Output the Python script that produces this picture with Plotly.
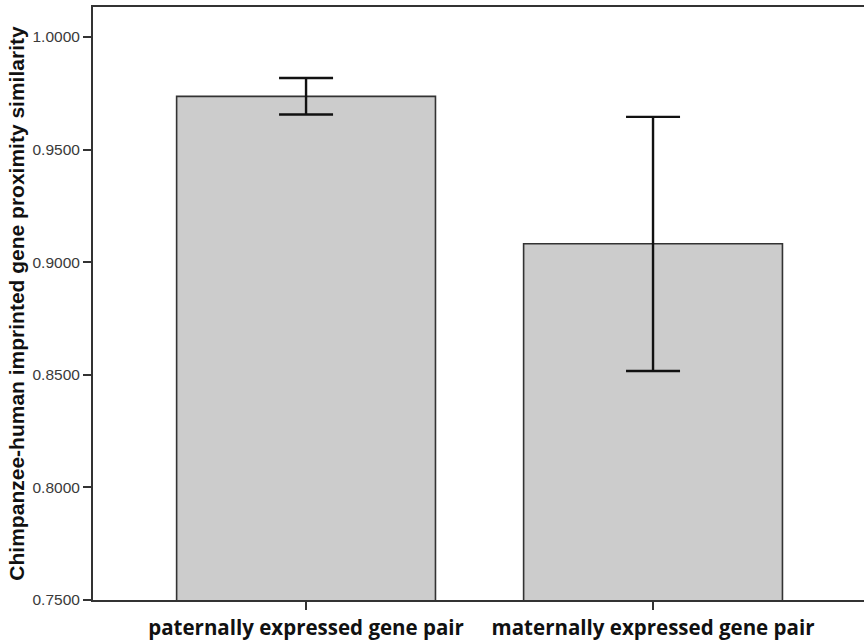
import plotly.graph_objects as go

categories = ["paternally expressed gene pair", "maternally expressed gene pair"]
means = [0.9736, 0.9082]
err_plus = [0.0082, 0.0563]
err_minus = [0.0080, 0.0565]
y_ticks = [0.75, 0.80, 0.85, 0.90, 0.95, 1.00]
y_tick_labels = ["0.7500", "0.8000", "0.8500", "0.9000", "0.9500", "1.0000"]

fig = go.Figure()
fig.add_trace(go.Bar(
    x=[0, 1], y=means, width=0.746,
    marker=dict(color="#cccccc", line=dict(color="#333333", width=1.6)),
    error_y=dict(type="data", symmetric=False, array=err_plus, arrayminus=err_minus,
                 color="#111111", thickness=2.4, width=27),
))

fig.update_layout(
    width=864, height=644,
    margin=dict(l=93, r=0, t=7, b=44),
    plot_bgcolor="white", paper_bgcolor="white",
    showlegend=False,
    xaxis=dict(
        range=[-0.614, 1.608], tickmode="array", tickvals=[0, 1], ticktext=categories,
        ticks="outside", ticklen=8, tickwidth=2, tickcolor="#333333",
        showline=True, linecolor="#333333", linewidth=2, mirror=True,
        showgrid=False, zeroline=False,
        tickfont=dict(family="Open Sans", size=20.5, color="#111111", weight="bold"),
    ),
    yaxis=dict(
        range=[0.75, 1.0133], tickmode="array", tickvals=y_ticks, ticktext=y_tick_labels,
        ticks="outside", ticklen=8, tickwidth=2, tickcolor="#333333",
        showline=True, linecolor="#333333", linewidth=2,
        showgrid=False, zeroline=False,
        tickfont=dict(family="Liberation Sans", size=15.5, color="#3a3a3a"),
        title=dict(text="Chimpanzee-human imprinted gene proximity similarity",
                   font=dict(family="Liberation Sans", size=21, color="#111111", weight="bold"),
                   standoff=2),
    ),
)

fig.write_html("out.html", config={"displayModeBar": False},
               post_script="document.body.style.margin='0';document.body.style.overflow='hidden';")
